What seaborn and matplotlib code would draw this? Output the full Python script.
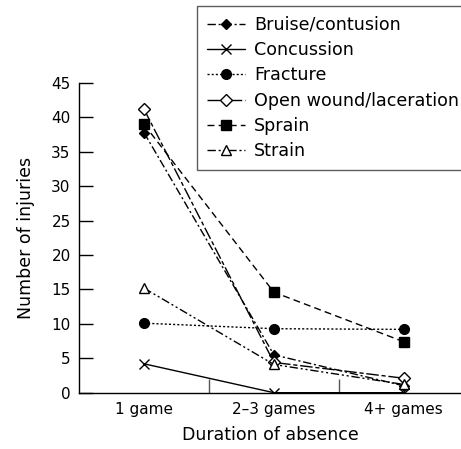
import pandas as pd
import seaborn as sns
import matplotlib.pyplot as plt

durations = ['1 game', '2–3 games', '4+ games']
bruise = [37.8, 5.5, 1.0]
concussion = [4.2, 0.0, 0.0]
fracture = [10.1, 9.3, 9.2]
open_wound = [41.2, 4.4, 2.1]
sprain = [39.0, 14.6, 7.4]
strain = [15.2, 4.1, 1.2]

series = {
    'Bruise/contusion': bruise,
    'Concussion': concussion,
    'Fracture': fracture,
    'Open wound/laceration': open_wound,
    'Sprain': sprain,
    'Strain': strain,
}

# line / marker styles per injury type
styles = {
    'Bruise/contusion': dict(ls=(0, (6, 2, 1.5, 2)), marker='D', mfc='black', ms=5.5),
    'Concussion': dict(ls='-', marker='x', mfc='black', ms=7),
    'Fracture': dict(ls=(0, (1.5, 1.5)), marker='o', mfc='black', ms=7),
    'Open wound/laceration': dict(ls=(0, (9, 2, 3, 2)), marker='D', mfc='white', ms=6),
    'Sprain': dict(ls=(0, (5, 3)), marker='s', mfc='black', ms=6.5),
    'Strain': dict(ls=(0, (6, 2, 1.5, 2, 1.5, 2)), marker='^', mfc='white', ms=7),
}

sns.set_theme(style='white')
plt.rcParams['font.family'] = ['DejaVu Sans']
plt.rcParams.update({'text.color': 'black', 'axes.labelcolor': 'black',
                     'xtick.color': 'black', 'ytick.color': 'black'})

fig = plt.figure(figsize=(4.61, 4.49), dpi=100)
ax = fig.add_axes([79 / 461, 56.3 / 449, 1 - 79 / 461, (392.7 - 83) / 449])

for name, vals in series.items():
    df = pd.DataFrame({'Duration of absence': durations, 'Number of injuries': vals})
    st = styles[name]
    sns.lineplot(data=df, x='Duration of absence', y='Number of injuries', ax=ax,
                 color='black', linewidth=1, linestyle=st['ls'], marker=st['marker'],
                 markersize=st['ms'], markerfacecolor=st['mfc'], markeredgecolor='black',
                 markeredgewidth=1, label=name)

ax.set_xlim(-0.5, 2.44)
ax.set_ylim(0, 45)
ax.set_yticks(range(0, 46, 5))
ax.set_xticks([0.5, 1.5], minor=True)
ax.tick_params(axis='y', direction='in', length=10, width=1, color='black',
               labelsize=11, pad=6, left=True)
ax.tick_params(axis='x', which='major', length=0, labelsize=11, pad=7)
ax.tick_params(axis='x', which='minor', direction='in', length=10, width=1,
               color='#555555', bottom=True)
for s in ['top', 'right']:
    ax.spines[s].set_visible(False)
for s in ['left', 'bottom']:
    ax.spines[s].set_color('black')
    ax.spines[s].set_linewidth(1)
ax.set_xlabel('Duration of absence', fontsize=12.5, labelpad=6)
ax.set_ylabel('Number of injuries', fontsize=12.5, labelpad=12)

leg = ax.legend(loc='upper left', bbox_to_anchor=(197 / 461, 1 - 6 / 449),
                bbox_transform=fig.transFigure, fontsize=12.6, frameon=True,
                fancybox=False, edgecolor='#333333', handlelength=2.2,
                handletextpad=0.5, labelspacing=0.42, borderpad=0.55,
                borderaxespad=0)
leg.get_frame().set_linewidth(1)

fig.savefig('out.png', dpi=100)
